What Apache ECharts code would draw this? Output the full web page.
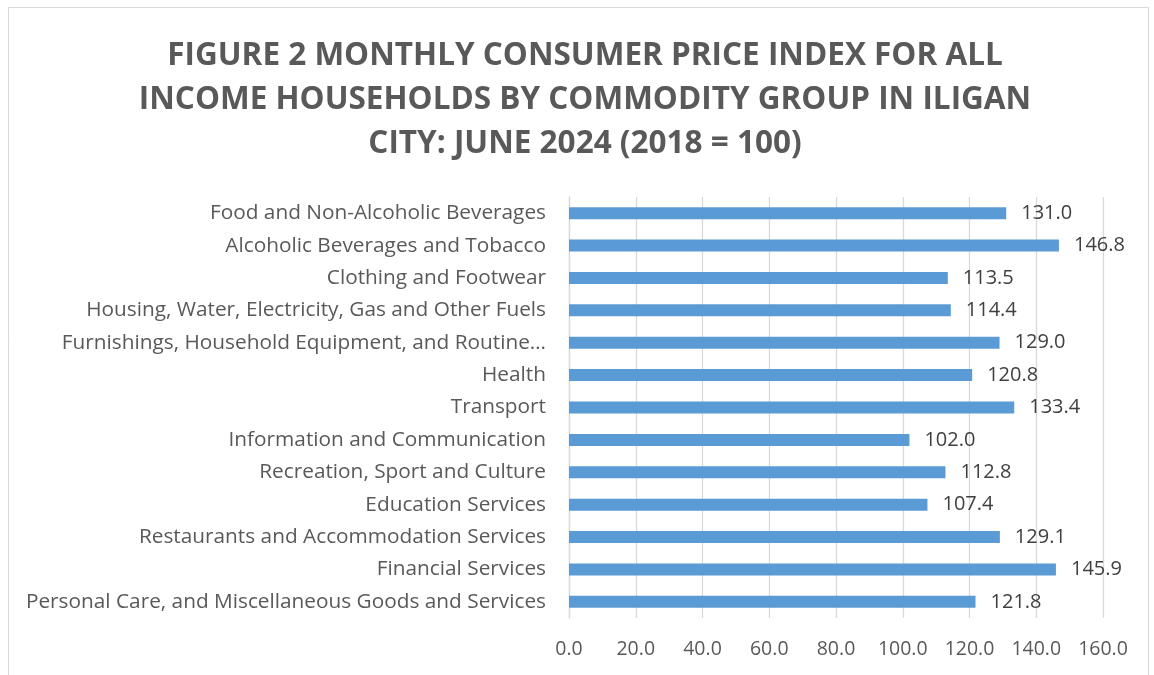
<!DOCTYPE html>
<html>
<head>
<meta charset="utf-8">
<script src="https://cdn.jsdelivr.net/npm/echarts@6/dist/echarts.min.js"></script>
<style>
  html, body { margin: 0; padding: 0; background: #fff; }
  #chart { width: 1154px; height: 675px; }
</style>
</head>
<body>
<div id="chart"></div>
<script>
// categories top to bottom as they appear in the picture
const categories = [
  'Food and Non-Alcoholic Beverages',
  'Alcoholic Beverages and Tobacco',
  'Clothing and Footwear',
  'Housing, Water, Electricity, Gas and Other Fuels',
  'Furnishings, Household Equipment, and Routine…',
  'Health',
  'Transport',
  'Information and Communication',
  'Recreation, Sport and Culture',
  'Education Services',
  'Restaurants and Accommodation Services',
  'Financial Services',
  'Personal Care, and Miscellaneous Goods and Services'
]
const cpiValues = [131.0, 146.8, 113.5, 114.4, 129.0, 120.8, 133.4, 102.0, 112.8, 107.4, 129.1, 145.9, 121.8]

const titleText = 'FIGURE 2 MONTHLY CONSUMER PRICE INDEX FOR ALL\nINCOME HOUSEHOLDS BY COMMODITY GROUP IN ILIGAN\nCITY: JUNE 2024 (2018 = 100)'

let myChart = echarts.init(document.getElementById('chart'))
let option = {
  backgroundColor: '#fff',
  animation: false,
  graphic: [
    {
      type: 'rect',
      shape: { x: 8.5, y: 7.5, width: 1140, height: 700 },
      style: { fill: 'none', stroke: '#d9d9d9', lineWidth: 1 },
      silent: true,
    },
  ],
  title: {
    text: titleText,
    left: 580,
    top: 29,
    textAlign: 'center',
    textStyle: {
      color: '#595959',
      fontFamily: 'Open Sans',
      fontWeight: 'bold',
      fontSize: 31.5,
      lineHeight: 44,
    },
  },
  grid: {
    left: 569,
    right: 51,
    top: 197,
    bottom: 57,
    containLabel: false,
  },
  xAxis: {
    type: 'value',
    min: 0,
    max: 160,
    interval: 20,
    axisLine: { show: false },
    axisTick: { show: false },
    splitLine: { lineStyle: { color: '#d9d9d9', width: 1.3 } },
    axisLabel: {
      color: '#595959',
      fontFamily: 'Open Sans',
      fontSize: 19.5,
      margin: 21,
      formatter: (v) => v.toFixed(1),
    },
  },
  yAxis: {
    type: 'category',
    inverse: true,
    data: categories,
    axisLine: { show: true, lineStyle: { color: '#d9d9d9', width: 1.3 } },
    axisTick: { show: false },
    axisLabel: {
      color: '#595959',
      fontFamily: 'Open Sans',
      fontSize: 20.8,
      margin: 23,
    },
  },
  series: [
    {
      type: 'bar',
      data: cpiValues,
      barWidth: 12,
      itemStyle: { color: '#5b9bd5' },
      label: {
        show: true,
        position: 'right',
        distance: 15,
        color: '#404040',
        fontFamily: 'Open Sans',
        fontSize: 20,
        formatter: (p) => p.value.toFixed(1),
      },
    },
  ],
}
myChart.setOption(option)
</script>
</body>
</html>
